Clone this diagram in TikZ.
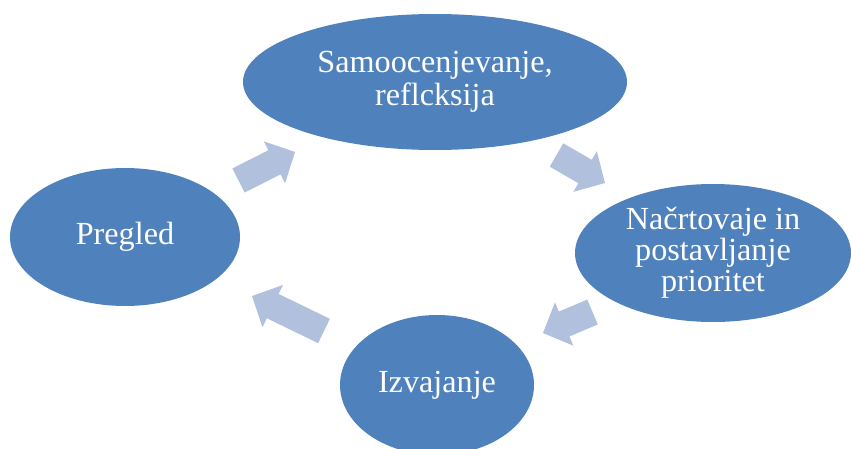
\documentclass[tikz,border=0pt]{standalone}
\usepackage{fontspec}
\setmainfont{Liberation Serif}
\usetikzlibrary{shapes.geometric}
\definecolor{ellblue}{RGB}{79,129,189}
\definecolor{arrowc}{RGB}{176,192,221}
\tikzset{
  stage/.style={ellipse, fill=ellblue, draw=none, inner sep=0pt, text=white, align=center,
    font=\fontsize{32.2}{33}\selectfont},
  blockarrow/.style={fill=arrowc, draw=none}
}
\newcommand\barrow[3]{%
  \begin{scope}[shift={(#1)},rotate=#2]
    \fill[blockarrow] (0,-13.5) -- ({#3-23},-13.5) -- ({#3-23},-23.5) -- (#3,0)
      -- ({#3-23},23.5) -- ({#3-23},13.5) -- (0,13.5) -- cycle;
  \end{scope}}
\begin{document}
\begin{tikzpicture}[x=1pt,y=1pt]
\useasboundingbox (0,0) rectangle (851,448);
\clip (0,0) rectangle (851,448);
\node[stage, minimum width=384pt, minimum height=136pt] (top) at (435,366) {Samoocenjevanje,\\reflcksija};
\node[stage, minimum width=276pt, minimum height=138pt, font=\fontsize{32.2}{31}\selectfont] (right) at (713,195) {Načrtovaje in\\postavljanje\\prioritet};
\node[stage, minimum width=194pt, minimum height=140pt] (bottom) at (437,63) {Izvajanje};
\node[stage, minimum width=230pt, minimum height=138pt] (left) at (125,211) {Pregled};
\barrow{238.5,267.5}{26.8}{63.3}
\barrow{556.5,293}{-30}{56}
\barrow{592.5,136}{203}{53.8}
\barrow{324,117}{154.1}{80}
\end{tikzpicture}
\end{document}
